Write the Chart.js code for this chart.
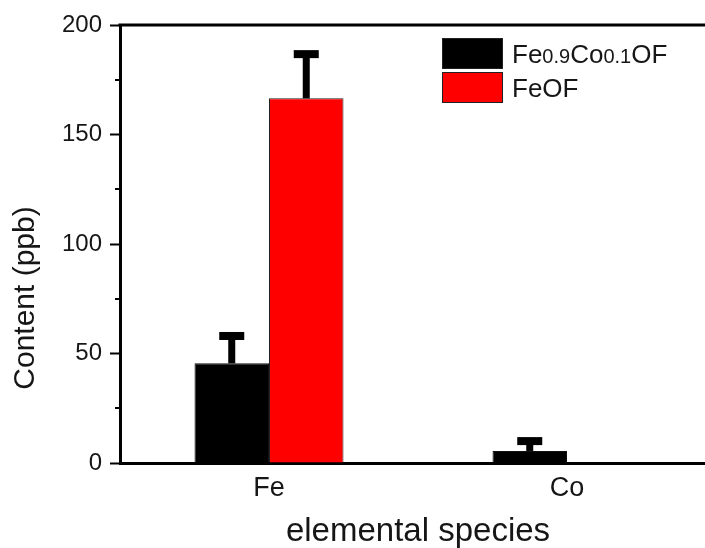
<!DOCTYPE html>
<html>
<head>
<meta charset="utf-8">
<script src="https://cdn.jsdelivr.net/npm/chart.js@4/dist/chart.umd.min.js"></script>
<style>
  html, body { margin: 0; padding: 0; background: #fff; overflow: hidden; }
  #wrap { width: 720px; height: 548px; position: relative; }
</style>
</head>
<body>
<div id="wrap"><canvas id="chart"></canvas></div>
<script>
// dati
const categories = ['Fe', 'Co'];
const seriesNames = ['Fe0.9Co0.1OF', 'FeOF'];
const valuesFeCo = [45.5, 5.5];
const errorsFeCo = [12.5, 4.5];
const valuesFeOF = [166.5, 0];
const errorsFeOF = [20.2, 0];
const yTicks = [0, 50, 100, 150, 200];
const yMinorTicks = [25, 75, 125, 175];

const FONT = 'Liberation Sans, Arial, sans-serif';
const TXT = '#161616';

// barre di errore (solo verso l'alto)
const errorBars = {
  id: 'errorBars',
  afterDatasetsDraw(chart) {
    const ctx = chart.ctx;
    const y = chart.scales.y;
    chart.data.datasets.forEach((ds, i) => {
      const meta = chart.getDatasetMeta(i);
      meta.data.forEach((bar, j) => {
        const err = ds.errors[j];
        if (!err) return;
        const top = y.getPixelForValue(ds.data[j] + err);
        ctx.save();
        ctx.fillStyle = '#000';
        ctx.fillRect(bar.x - 3.5, top, 7, bar.y - top);
        ctx.fillRect(bar.x - 12.5, top - 4, 25, 8);
        ctx.restore();
      });
    });
  }
};

// tacche minori, bordo superiore, titolo asse y
const frame = {
  id: 'frame',
  afterDraw(chart) {
    const ctx = chart.ctx;
    const area = chart.chartArea;
    const y = chart.scales.y;
    ctx.save();
    ctx.strokeStyle = '#000';
    ctx.lineWidth = 2;
    yMinorTicks.forEach(v => {
      const py = Math.round(y.getPixelForValue(v));
      ctx.beginPath();
      ctx.moveTo(area.left - 5, py);
      ctx.lineTo(area.left, py);
      ctx.stroke();
    });
    ctx.lineWidth = 3;
    ctx.beginPath();
    ctx.moveTo(area.left - 1.5, area.top);
    ctx.lineTo(area.right, area.top);
    ctx.stroke();

    ctx.translate(26, 298);
    ctx.rotate(-Math.PI / 2);
    ctx.font = '30px ' + FONT;
    ctx.fillStyle = TXT;
    ctx.textAlign = 'center';
    ctx.textBaseline = 'middle';
    ctx.fillText('Content (ppb)', 0, 0);
    ctx.restore();
  }
};

// legenda con pedici
function drawFormula(ctx, text, x, baseline) {
  const parts = text.split(/(\d+(?:\.\d+)?)/).filter(p => p);
  parts.forEach(p => {
    const sub = /^\d/.test(p);
    ctx.font = (sub ? '20px ' : '26px ') + FONT;
    ctx.fillText(p, x, baseline);
    x += ctx.measureText(p).width;
  });
}

const legendBox = {
  id: 'legendBox',
  afterDraw(chart) {
    const ctx = chart.ctx;
    const area = chart.chartArea;
    const x0 = area.left + 322;
    let y0 = area.top + 13;
    ctx.save();
    chart.data.datasets.forEach(ds => {
      ctx.fillStyle = ds.backgroundColor;
      ctx.fillRect(x0, y0, 61, 31);
      ctx.strokeStyle = '#222';
      ctx.lineWidth = 1;
      ctx.strokeRect(x0 + 0.5, y0 + 0.5, 60, 30);
      ctx.fillStyle = TXT;
      ctx.textBaseline = 'alphabetic';
      drawFormula(ctx, ds.label, x0 + 70, y0 + 25);
      y0 += 34;
    });
    ctx.restore();
  }
};

new Chart(document.getElementById('chart'), {
  type: 'bar',
  data: {
    labels: categories,
    datasets: [
      {
        label: seriesNames[0],
        data: valuesFeCo,
        errors: errorsFeCo,
        backgroundColor: '#000000',
        borderColor: '#111',
        borderWidth: 1
      },
      {
        label: seriesNames[1],
        data: valuesFeOF,
        errors: errorsFeOF,
        backgroundColor: '#ff0000',
        borderColor: '#222',
        borderWidth: 1
      }
    ]
  },
  options: {
    responsive: true,
    maintainAspectRatio: false,
    animation: false,
    categoryPercentage: 0.5,
    barPercentage: 1.0,
    layout: { padding: { top: 25, right: 4, left: 0, bottom: 0 } },
    plugins: {
      legend: { display: false },
      tooltip: { enabled: false }
    },
    scales: {
      x: {
        grid: { display: true, drawOnChartArea: false, drawTicks: false },
        border: { color: '#000', width: 3 },
        ticks: { font: { family: FONT, size: 27 }, color: TXT, padding: 9 },
        title: {
          display: true,
          text: 'elemental species',
          font: { family: FONT, size: 33, lineHeight: 1.0 },
          color: TXT,
          padding: { top: 0, bottom: 0 }
        },
        afterFit(scale) { scale.height = 85; }
      },
      y: {
        min: 0,
        max: 200,
        afterBuildTicks(scale) { scale.ticks = yTicks.map(v => ({ value: v })); },
        grid: { drawOnChartArea: false, drawTicks: true, tickLength: 10, tickColor: '#000', tickWidth: 2 },
        border: { color: '#000', width: 3 },
        ticks: { font: { family: FONT, size: 24 }, color: TXT, padding: 8 },
        afterFit(scale) { scale.width = 120; }
      }
    }
  },
  plugins: [errorBars, frame, legendBox]
});
</script>
</body>
</html>
